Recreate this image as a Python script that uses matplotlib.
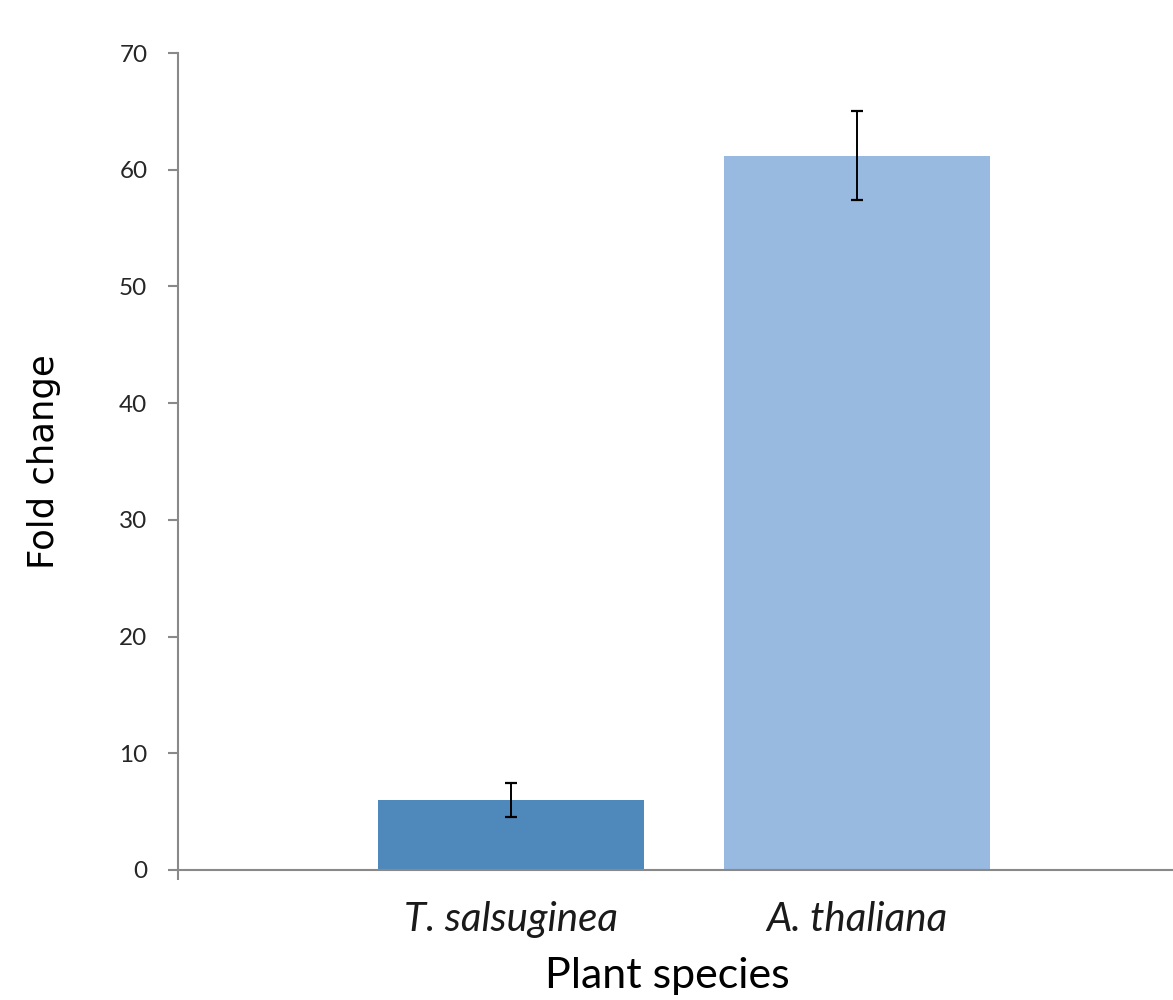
import matplotlib
matplotlib.use("Agg")
import matplotlib.pyplot as plt
import numpy as np

categories = ["T. salsuginea", "A. thaliana"]
values = [6.0, 61.2]
errors = [1.45, 3.8]
colors = ["#4F89BC", "#98B9E0"]
yticks = [0, 10, 20, 30, 40, 50, 60, 70]

fig = plt.figure(figsize=(11.73, 10), dpi=100)
ax = fig.add_axes([0.1517, 0.13, 0.8483, 0.817])

x = np.arange(len(categories))
ax.bar(x, values, width=0.769, color=colors, zorder=2)
ax.errorbar(x, values, yerr=errors, fmt="none", ecolor="black",
            elinewidth=1.4, capsize=4.5, capthick=1.6, zorder=3)

ax.set_xlim(-0.962, 1.913)
ax.set_ylim(0, 70)
ax.set_yticks(yticks)
ax.set_yticklabels([str(t) for t in yticks], fontfamily="Lato", fontsize=17.5, color="#262626")
ax.set_xticks(x)
ax.set_xticklabels(categories, fontfamily="Lato", fontstyle="italic", fontsize=29, color="#1a1a1a")
ax.tick_params(axis="x", length=0, pad=22)
ax.set_xticks([-0.962], minor=True)
ax.tick_params(axis="x", which="minor", length=7, width=1.5, color="#898989", direction="out")
ax.tick_params(axis="y", length=7, width=1.5, color="#898989", direction="out", pad=15)

for s in ["top", "right"]:
    ax.spines[s].set_visible(False)
for s in ["left", "bottom"]:
    ax.spines[s].set_color("#898989")
    ax.spines[s].set_linewidth(1.5)

ax.set_ylabel("Fold change", fontfamily="DejaVu Sans", fontsize=25.5)
ax.yaxis.set_label_coords(-0.118, 0.5)
ax.set_xlabel("Plant species", fontfamily="Lato", fontsize=31)
ax.xaxis.set_label_coords(0.492, -0.106)

fig.savefig("out.png", dpi=100)
